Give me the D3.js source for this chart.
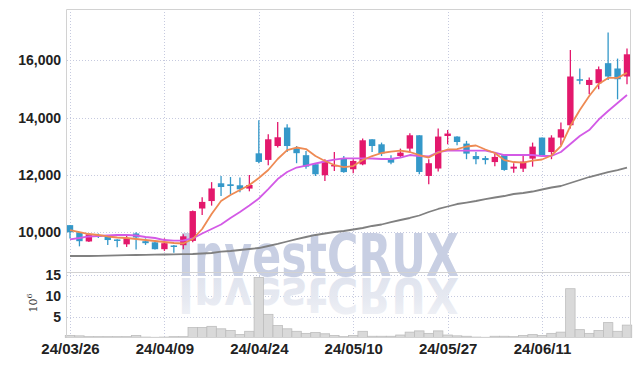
<html>
<script src='https://d3js.org/d3.v7.min.js'></script>
<style>
    body {
        margin: 0;
        background: #fff;
        overflow: hidden;
    }

    .tick text {
        font-family: 'Liberation Sans Narrow', sans-serif;
        font-weight: bold;
        fill: #222;
    }
</style>

<body>
    <svg id='chart' width=639 height=366></svg>
</body>

<script>
    // trading days, price in won, volume in millions
    var dates = ['24/03/26', '24/03/27', '24/03/28', '24/03/29', '24/04/01', '24/04/02', '24/04/03', '24/04/04', '24/04/05', '24/04/08',
        '24/04/09', '24/04/11', '24/04/12', '24/04/15', '24/04/16', '24/04/17', '24/04/18', '24/04/19', '24/04/22', '24/04/23',
        '24/04/24', '24/04/25', '24/04/26', '24/04/29', '24/04/30', '24/05/02', '24/05/03', '24/05/07', '24/05/08', '24/05/09',
        '24/05/10', '24/05/13', '24/05/14', '24/05/16', '24/05/17', '24/05/20', '24/05/21', '24/05/22', '24/05/23', '24/05/24',
        '24/05/27', '24/05/28', '24/05/29', '24/05/30', '24/05/31', '24/06/03', '24/06/04', '24/06/05', '24/06/07', '24/06/10',
        '24/06/11', '24/06/12', '24/06/13', '24/06/14', '24/06/17', '24/06/18', '24/06/19', '24/06/20', '24/06/21', '24/06/24'];

    var open = [10250, 10000, 9680, 9900, 9850, 9750, 9580, 9960, 9690, 9650,
        9410, 9540, 9550, 9700, 10830, 11090, 11710, 11675, 11640, 11525,
        12755, 12525, 13010, 13655, 12930, 12690, 12375, 11990, 12300, 12570,
        12200, 12370, 13245, 13070, 12570, 12660, 12920, 13385, 11965, 12225,
        13360, 13340, 13095, 12660, 12590, 12450, 12690, 12220, 12220, 12570,
        13305, 12800, 13305, 13735, 15340, 15140, 15200, 15900, 15715, 15435];
    var high = [10250, 10000, 9950, 9960, 9900, 9760, 9900, 10000, 9790, 9660,
        9790, 9560, 9930, 10760, 11220, 11750, 11960, 11930, 11910, 12000,
        13910, 13420, 13850, 13770, 13010, 12840, 12400, 12550, 12800, 12660,
        12550, 13270, 13250, 13130, 12690, 12920, 13455, 13390, 12550, 13620,
        13570, 13350, 13190, 12800, 12660, 12750, 12700, 12410, 12720, 13130,
        13305, 13385, 13830, 16360, 15710, 15400, 15785, 16970, 16060, 16410];
    var low = [9780, 9510, 9660, 9800, 9560, 9480, 9490, 9400, 9560, 9400,
        9350, 9290, 9410, 9650, 10600, 10930, 11270, 11325, 11400, 11430,
        12410, 12340, 12955, 12800, 12410, 12220, 11965, 11790, 12140, 12080,
        12060, 12340, 12800, 12660, 12370, 12610, 12780, 12025, 11675, 12120,
        13070, 13035, 12550, 12370, 12370, 12300, 12150, 12080, 12105, 12290,
        12690, 12550, 13035, 13620, 15165, 14815, 14990, 15315, 14640, 15165];
    var close = [10000, 9690, 9930, 9840, 9730, 9700, 9800, 9820, 9620, 9410,
        9620, 9490, 9860, 10740, 11060, 11530, 11580, 11615, 11500, 11650,
        12455, 13245, 13315, 13010, 12760, 12290, 12025, 12470, 12350, 12100,
        12490, 13210, 13010, 12750, 12430, 12780, 13385, 12105, 12410, 13340,
        13445, 13150, 12745, 12550, 12520, 12630, 12175, 12290, 12465, 12990,
        12690, 13305, 13595, 15435, 15300, 15315, 15690, 15435, 15340, 16210];
    var volume = [0.5, 0.4, 0.2, 0.2, 0.2, 0.2, 0.2, 0.5, 0.1, 0.05,
        0.1, 0.2, 0.2, 2.4, 2.4, 2.7, 2.1, 1.7, 0.7, 1.5,
        14.5, 5.6, 2.9, 2.1, 1.5, 1.0, 1.2, 0.9, 0.5, 0.2,
        0.5, 1.5, 0.3, 0.3, 0.3, 0.6, 1.3, 1.6, 1.0, 1.6,
        0.6, 0.4, 0.3, 0.1, 0.05, 0.3, 0.3, 0.2, 0.5, 0.7,
        0.5, 1.0, 1.3, 11.8, 1.9, 1.0, 1.7, 3.6, 1.5, 3.0];

    var ma5 = [10080, 10010, 9940, 9906, 9854, 9819, 9801, 9766, 9731, 9697,
        9662, 9627, 9609, 9766, 10115, 10638, 11092, 11301, 11475, 11650,
        11894, 12173, 12557, 12870, 12958, 12905, 12661, 12487, 12347, 12277,
        12312, 12522, 12661, 12766, 12818, 12846, 12801, 12696, 12609, 12783,
        12888, 12905, 12993, 13028, 12888, 12766, 12522, 12452, 12434, 12504,
        12539, 12679, 13010, 13708, 14266, 14754, 15173, 15387, 15387, 15561];
    var ma20 = [9756, 9801, 9854, 9871, 9888, 9906, 9906, 9888, 9836, 9801,
        9731, 9707, 9714, 9784, 9958, 10115, 10272, 10499, 10708, 10935,
        11179, 11510, 11859, 12103, 12260, 12330, 12400, 12470, 12539, 12581,
        12581, 12581, 12574, 12557, 12557, 12609, 12696, 12661, 12644, 12801,
        12853, 12846, 12846, 12846, 12846, 12783, 12696, 12696, 12696, 12696,
        12661, 12661, 12801, 13080, 13359, 13568, 13934, 14231, 14510, 14789];
    var ma120 = [9173, 9173, 9173, 9180, 9187, 9194, 9201, 9208, 9215, 9222,
        9226, 9233, 9236, 9243, 9261, 9278, 9323, 9348, 9383, 9417,
        9452, 9522, 9592, 9679, 9766, 9836, 9906, 9958, 10010, 10045,
        10098, 10150, 10220, 10272, 10359, 10429, 10499, 10586, 10708, 10813,
        10900, 10987, 11039, 11092, 11161, 11214, 11266, 11336, 11371, 11423,
        11493, 11563, 11615, 11720, 11824, 11929, 12016, 12103, 12173, 12260];

    var priceTicks = [10000, 12000, 14000, 16000];
    var volTicks = [5, 10, 15];
    var dateTicks = ['24/03/26', '24/04/09', '24/04/24', '24/05/10', '24/05/27', '24/06/11'];

    const plotLeft = 67,
        plotRight = 631,
        plotTop = 9,
        mainBottom = 272,
        volBottom = 337.5;
    const upColor = '#e3186c',
        downColor = '#3498c9',
        gridColor = '#c6cadf',
        frameColor = '#d2d2d2';

    var svg = d3.select('#chart');

    var x = d3.scalePoint()
        .domain(dates)
        .range([70, 627]);
    var step = x.step();

    var y = d3.scaleLinear()
        .domain([8615, 17790])
        .range([mainBottom, plotTop]);

    var yv = d3.scaleLinear()
        .domain([0, 15.84])
        .range([volBottom, mainBottom]);

    // grid
    var grid = svg.append('g')
        .attr('stroke', gridColor)
        .attr('stroke-dasharray', '1,2')
        .attr('stroke-width', 1);

    grid.selectAll('.vg')
        .data(dateTicks)
        .enter().append('line')
        .attr('x1', function(d) { return Math.round(x(d)) + 0.5; })
        .attr('x2', function(d) { return Math.round(x(d)) + 0.5; })
        .attr('y1', plotTop)
        .attr('y2', volBottom);

    grid.selectAll('.hg')
        .data(priceTicks)
        .enter().append('line')
        .attr('x1', plotLeft)
        .attr('x2', plotRight)
        .attr('y1', function(d) { return Math.round(y(d)) + 0.5; })
        .attr('y2', function(d) { return Math.round(y(d)) + 0.5; });

    grid.selectAll('.vhg')
        .data(volTicks)
        .enter().append('line')
        .attr('x1', plotLeft)
        .attr('x2', plotRight)
        .attr('y1', function(d) { return Math.round(yv(d)) + 0.5; })
        .attr('y2', function(d) { return Math.round(yv(d)) + 0.5; });

    // watermark and its faded reflection
    var wmX = 178,
        wmBase = 276,
        wmFont = "'DejaVu Sans Condensed', sans-serif";

    var fade = svg.append('defs').append('linearGradient')
        .attr('id', 'fade')
        .attr('x1', 0).attr('y1', 0).attr('x2', 0).attr('y2', 1);
    fade.append('stop').attr('offset', '0%').attr('stop-color', '#f3f4f8');
    fade.append('stop').attr('offset', '45%').attr('stop-color', '#e6e9f1');
    fade.append('stop').attr('offset', '100%').attr('stop-color', '#dde1ed');

    svg.append('text')
        .attr('x', wmX)
        .attr('y', 0)
        .attr('transform', 'translate(0,' + (wmBase + 2) + ') scale(1,-0.85)')
        .attr('textLength', 281)
        .attr('lengthAdjust', 'spacingAndGlyphs')
        .style('font-family', wmFont)
        .style('font-weight', 'bold')
        .style('font-size', '59px')
        .style('fill', 'url(#fade)')
        .text('InvestCRUX');

    svg.append('text')
        .attr('x', wmX)
        .attr('y', wmBase)
        .attr('textLength', 281)
        .attr('lengthAdjust', 'spacingAndGlyphs')
        .style('font-family', wmFont)
        .style('font-weight', 'bold')
        .style('font-size', '59px')
        .style('fill', '#c8cfe3')
        .text('InvestCRUX');

    // volume bars
    svg.append('g')
        .selectAll('rect')
        .data(volume)
        .enter().append('rect')
        .attr('x', function(d, i) { return x(dates[i]) - step / 2; })
        .attr('width', step)
        .attr('y', function(d) { return yv(d); })
        .attr('height', function(d) { return volBottom - yv(d); })
        .attr('fill', '#d9d9d9')
        .attr('stroke', '#bdbdbd')
        .attr('stroke-width', 0.8);

    // candles
    var candles = svg.append('g');
    var bodyW = 6.4;

    candles.selectAll('.wick')
        .data(dates)
        .enter().append('line')
        .attr('x1', function(d) { return x(d); })
        .attr('x2', function(d) { return x(d); })
        .attr('y1', function(d, i) { return y(high[i]); })
        .attr('y2', function(d, i) { return y(low[i]); })
        .attr('stroke', function(d, i) { return close[i] >= open[i] ? upColor : downColor; })
        .attr('stroke-width', 1.3);

    candles.selectAll('.body')
        .data(dates)
        .enter().append('rect')
        .attr('x', function(d) { return x(d) - bodyW / 2; })
        .attr('width', bodyW)
        .attr('y', function(d, i) { return y(Math.max(open[i], close[i])); })
        .attr('height', function(d, i) { return Math.max(1.5, Math.abs(y(open[i]) - y(close[i]))); })
        .attr('fill', function(d, i) { return close[i] >= open[i] ? upColor : downColor; });

    // moving averages
    function maLine(vals, color) {
        svg.append('path')
            .datum(vals)
            .attr('fill', 'none')
            .attr('stroke', color)
            .attr('stroke-width', 1.8)
            .attr('stroke-linejoin', 'round')
            .attr('d', d3.line()
                .x(function(d, i) { return x(dates[i]); })
                .y(function(d) { return y(d); })
            );
    }
    maLine(ma120, '#808080');
    maLine(ma20, '#d35ae6');
    maLine(ma5, '#ee8a53');

    // frame
    var frame = svg.append('g')
        .attr('stroke', frameColor)
        .attr('stroke-width', 1)
        .attr('fill', 'none');
    frame.append('path')
        .attr('d', 'M' + (plotLeft - 0.5) + ',' + volBottom + 'V' + (plotTop + 0.5) + 'H' + (plotRight - 0.5) + 'V' + volBottom);
    frame.append('line')
        .attr('x1', plotLeft).attr('x2', plotRight)
        .attr('y1', mainBottom + 0.5).attr('y2', mainBottom + 0.5);
    frame.append('line')
        .attr('x1', plotLeft).attr('x2', plotRight)
        .attr('y1', volBottom).attr('y2', volBottom);

    // axes
    var yaxis = svg.append('g')
        .attr('transform', 'translate(' + 61 + ',0)')
        .call(d3.axisLeft(y).tickValues(priceTicks).tickSize(0).tickFormat(d3.format(',')));
    yaxis.select('.domain').remove();
    yaxis.selectAll('text').style('font-size', '14px').attr('x', 0);

    var vaxis = svg.append('g')
        .attr('transform', 'translate(' + 61 + ',0)')
        .call(d3.axisLeft(yv).tickValues(volTicks).tickSize(0));
    vaxis.select('.domain').remove();
    vaxis.selectAll('text').style('font-size', '14px').attr('x', 0);

    var xaxis = svg.append('g')
        .attr('transform', 'translate(0,' + 343 + ')')
        .call(d3.axisBottom(x).tickValues(dateTicks).tickSize(0));
    xaxis.select('.domain').remove();
    xaxis.selectAll('text').style('font-size', '15px').attr('y', 0).attr('dy', '0.71em');

    var unit = svg.append('text')
        .attr('transform', 'translate(' + 37 + ',' + 303 + ')rotate(-90)')
        .style('text-anchor', 'middle')
        .style('font-family', "'DejaVu Serif', serif")
        .style('font-size', '11px')
        .style('fill', '#333');
    unit.append('tspan').text('10');
    unit.append('tspan').attr('dy', '-5').style('font-size', '8px').text('6');
</script>

</html>
